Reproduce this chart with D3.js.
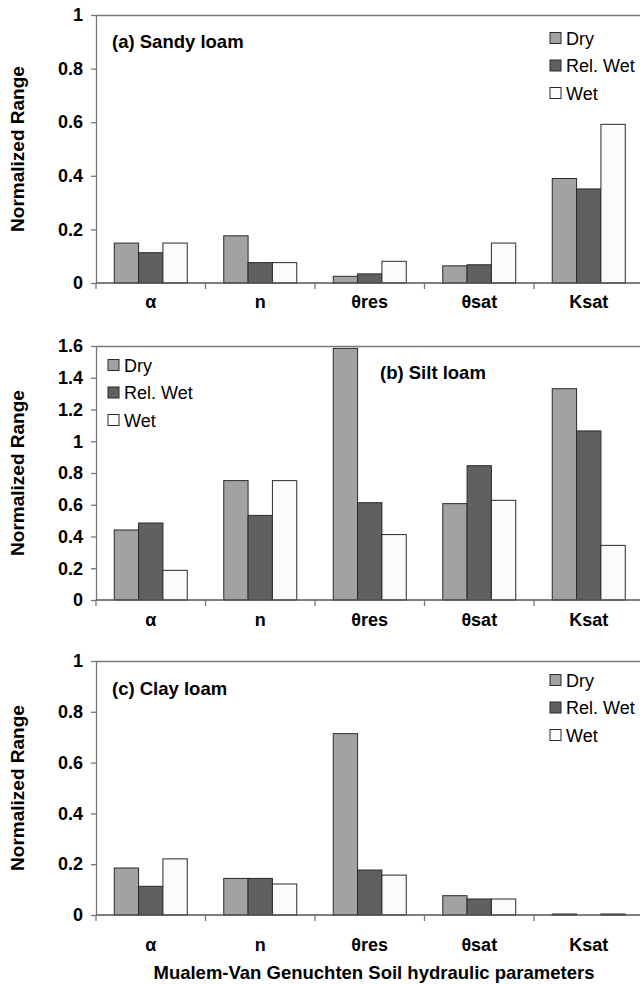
<!DOCTYPE html>
<html>
<head>
<meta charset="utf-8">
<script src="https://cdn.jsdelivr.net/npm/d3@7/dist/d3.min.js"></script>
<style>
  html, body { margin: 0; padding: 0; background: #fff; }
  svg { display: block; }
  text { font-family: "Liberation Sans", Arial, sans-serif; fill: #000; }
</style>
</head>
<body>
<svg id="chart" width="640" height="984"></svg>
<script>
// Mualem-Van Genuchten parameters on the x axis
const params = ["α", "n", "θres", "θsat", "Ksat"];
const seriesNames = ["Dry", "Rel. Wet", "Wet"];

// (a) Sandy loam
const sandyDry    = [0.149, 0.176, 0.025, 0.064, 0.390];
const sandyRelWet = [0.113, 0.076, 0.034, 0.068, 0.351];
const sandyWet    = [0.149, 0.076, 0.081, 0.149, 0.592];
const sandyTicks  = [0, 0.2, 0.4, 0.6, 0.8, 1];

// (b) Silt loam
const siltDry    = [0.441, 0.752, 1.585, 0.607, 1.331];
const siltRelWet = [0.485, 0.533, 0.613, 0.846, 1.065];
const siltWet    = [0.187, 0.752, 0.412, 0.628, 0.344];
const siltTicks  = [0, 0.2, 0.4, 0.6, 0.8, 1, 1.2, 1.4, 1.6];

// (c) Clay loam
const clayDry    = [0.185, 0.144, 0.714, 0.076, 0.004];
const clayRelWet = [0.113, 0.144, 0.177, 0.063, 0.000];
const clayWet    = [0.221, 0.122, 0.157, 0.063, 0.004];
const clayTicks  = [0, 0.2, 0.4, 0.6, 0.8, 1];

const panelTitles = ["(a) Sandy loam", "(b) Silt loam", "(c) Clay loam"];
const yTitle = "Normalized Range";
const xTitle = "Mualem-Van Genuchten Soil hydraulic parameters";

const fills = ["#a2a2a2", "#606060", "#fbfbfb"];
const axisColor = "#777";

const svg = d3.select("#chart");

const left = 96, right = 643.5;

const panels = [
  { title: panelTitles[0], series: [sandyDry, sandyRelWet, sandyWet], ticks: sandyTicks,
    top: 15, bottom: 283, titlePos: [112, 48], legendPos: [550, 38], labelY: 308 },
  { title: panelTitles[1], series: [siltDry, siltRelWet, siltWet], ticks: siltTicks,
    top: 346, bottom: 600, titlePos: [380, 379], legendPos: [108, 365], labelY: 626 },
  { title: panelTitles[2], series: [clayDry, clayRelWet, clayWet], ticks: clayTicks,
    top: 661, bottom: 915, titlePos: [112, 695], legendPos: [550, 680], labelY: 951 }
];

const x0 = d3.scaleBand()
  .domain(params)
  .range([left, right])
  .paddingInner(1 / 3)
  .paddingOuter(1 / 6);

const x1 = d3.scaleBand()
  .domain(seriesNames)
  .range([0, x0.bandwidth()]);

const fmt = v => String(+v.toFixed(1));

panels.forEach(p => {
  const g = svg.append("g");
  const yMax = p.ticks[p.ticks.length - 1];
  const y = d3.scaleLinear().domain([0, yMax]).range([p.bottom, p.top]);

  // plot frame: top and right edges
  g.append("path")
    .attr("d", `M${left},${p.top + 0.5}H${right}V${p.bottom}`)
    .attr("fill", "none")
    .attr("stroke", axisColor)
    .attr("stroke-width", 1.3);

  // bars
  const rows = params.map((k, i) => ({ key: k, vals: p.series.map((s, j) => ({ name: seriesNames[j], v: s[i], j })) }));
  const grp = g.selectAll("g.cat").data(rows).join("g")
    .attr("class", "cat")
    .attr("transform", d => `translate(${x0(d.key)},0)`);
  grp.selectAll("rect").data(d => d.vals).join("rect")
    .attr("x", d => x1(d.name))
    .attr("y", d => y(d.v))
    .attr("width", x1.bandwidth())
    .attr("height", d => y(0) - y(d.v))
    .attr("fill", d => fills[d.j])
    .attr("stroke", "#2a2a2a")
    .attr("stroke-width", 1);

  // y axis
  const ya = g.append("g")
    .attr("transform", `translate(${left},0)`)
    .call(d3.axisLeft(y).tickValues(p.ticks).tickSize(5).tickSizeOuter(0).tickPadding(8).tickFormat(fmt));
  ya.select(".domain").attr("stroke", axisColor).attr("stroke-width", 1.3);
  ya.selectAll(".tick line").attr("stroke", axisColor).attr("stroke-width", 1.3);
  ya.selectAll(".tick text")
    .style("font-family", "'Liberation Sans', Arial, sans-serif")
    .style("font-size", "18px").style("font-weight", "bold").attr("fill", "#000");

  // x axis baseline with boundary ticks between categories
  const xa = g.append("g").attr("transform", `translate(0,${p.bottom})`);
  xa.append("line").attr("x1", left).attr("x2", right)
    .attr("stroke", "#555").attr("stroke-width", 1.3);
  const bounds = d3.range(params.length + 1).map(i => left + i * x0.step());
  xa.selectAll("line.bt").data(bounds).join("line")
    .attr("class", "bt")
    .attr("x1", d => d).attr("x2", d => d)
    .attr("y1", 0).attr("y2", 6)
    .attr("stroke", axisColor).attr("stroke-width", 1.3);

  // category labels
  g.selectAll("text.cat").data(params).join("text")
    .attr("class", "cat")
    .attr("x", d => x0(d) + x0.bandwidth() / 2)
    .attr("y", p.labelY)
    .attr("text-anchor", "middle")
    .style("font-size", "18px").style("font-weight", "bold")
    .text(d => d);

  // y title
  g.append("text")
    .attr("transform", `translate(24,${(p.top + p.bottom) / 2}) rotate(-90)`)
    .attr("text-anchor", "middle")
    .style("font-size", "19px").style("font-weight", "bold")
    .text(yTitle);

  // panel title
  g.append("text")
    .attr("x", p.titlePos[0]).attr("y", p.titlePos[1])
    .style("font-size", "18.5px").style("font-weight", "bold")
    .text(p.title);

  // legend
  const lg = g.append("g").attr("transform", `translate(${p.legendPos[0]},${p.legendPos[1]})`);
  const li = lg.selectAll("g").data(seriesNames).join("g")
    .attr("transform", (d, i) => `translate(0,${i * 27.5})`);
  li.append("rect")
    .attr("x", 0).attr("y", -5.5).attr("width", 11).attr("height", 11)
    .attr("fill", (d, i) => fills[i])
    .attr("stroke", "#2a2a2a").attr("stroke-width", 1);
  li.append("text")
    .attr("x", 16).attr("y", 6.5)
    .style("font-size", "18px")
    .text(d => d);
});

// shared x title
svg.append("text")
  .attr("x", 374).attr("y", 979)
  .attr("text-anchor", "middle")
  .style("font-size", "18.5px").style("font-weight", "bold")
  .text(xTitle);
</script>
</body>
</html>
